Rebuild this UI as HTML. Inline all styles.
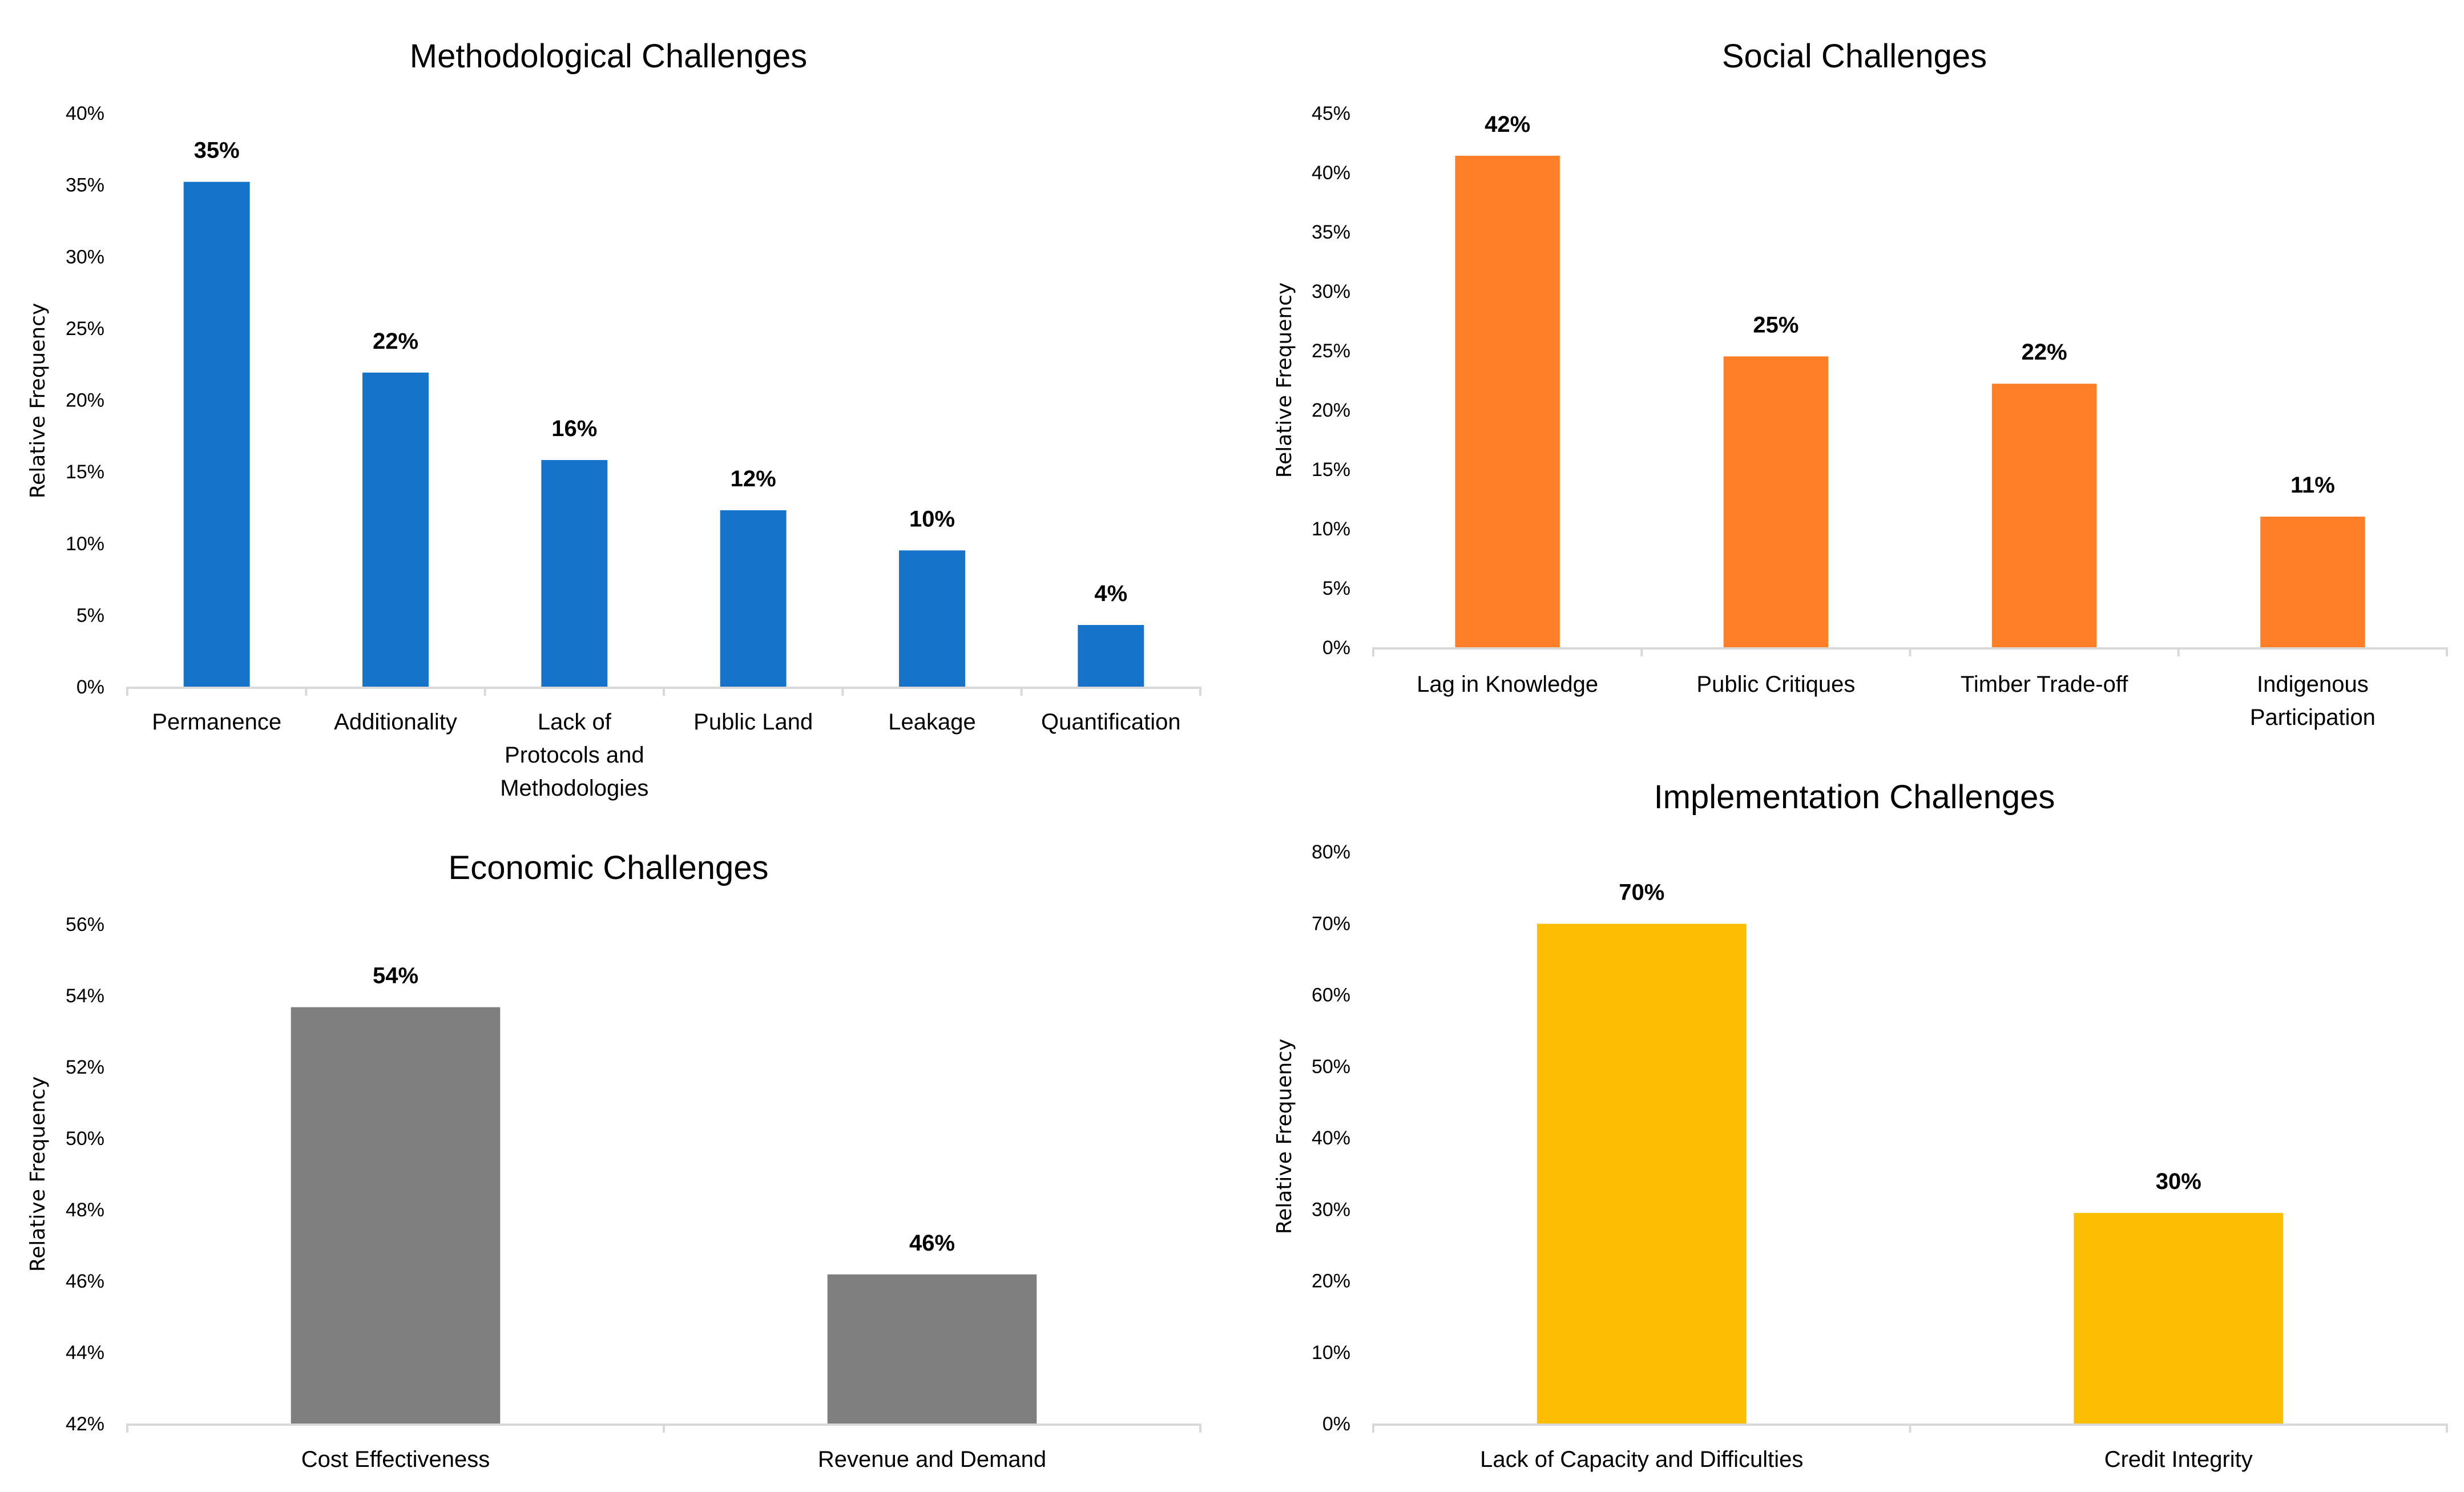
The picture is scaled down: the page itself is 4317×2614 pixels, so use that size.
<!DOCTYPE html>
<html><head><meta charset="utf-8">
<style>
html,body{margin:0;padding:0;background:#fff;}
svg{display:block;}
text{font-family:"Liberation Sans",sans-serif;fill:#000;}
.title{font-size:58px;}
.tick{font-size:34px;}
.cat{font-size:40px;}
.val{font-size:40px;font-weight:bold;}
.axt{font-family:"DejaVu Sans",sans-serif;font-size:36px;}
</style></head>
<body>
<svg id="root" width="4317" height="2614" viewBox="0 0 4317 2614" xmlns="http://www.w3.org/2000/svg"></svg>
<script>
const methCategories = [["Permanence"],["Additionality"],["Lack of","Protocols and","Methodologies"],["Public Land"],["Leakage"],["Quantification"]];
const methValues = [35.2, 21.9, 15.8, 12.3, 9.5, 4.3];
const methLabels = ["35%","22%","16%","12%","10%","4%"];
const methTicks = [0,5,10,15,20,25,30,35,40];

const socCategories = [["Lag in Knowledge"],["Public Critiques"],["Timber Trade-off"],["Indigenous","Participation"]];
const socValues = [41.4, 24.5, 22.2, 11.0];
const socLabels = ["42%","25%","22%","11%"];
const socTicks = [0,5,10,15,20,25,30,35,40,45];

const ecoCategories = [["Cost Effectiveness"],["Revenue and Demand"]];
const ecoValues = [53.67, 46.18];
const ecoLabels = ["54%","46%"];
const ecoTicks = [42,44,46,48,50,52,54,56];

const impCategories = [["Lack of Capacity and Difficulties"],["Credit Integrity"]];
const impValues = [69.9, 29.45];
const impLabels = ["70%","30%"];
const impTicks = [0,10,20,30,40,50,60,70,80];

const NS = "http://www.w3.org/2000/svg";
const root = document.getElementById('root');
function mk(tag, attrs, parent, txt){
  const e = document.createElementNS(NS, tag);
  for (const k in attrs) e.setAttribute(k, attrs[k]);
  if (txt !== undefined) e.textContent = txt;
  parent.appendChild(e);
  return e;
}

function chart(cfg){
  const g = mk('g', {}, root);
  
  
  const yMin = cfg.ticks[0], yMax = cfg.ticks[cfg.ticks.length-1];
  const y = v => cfg.y0 - (v - yMin) / (yMax - yMin) * (cfg.y0 - cfg.y1);
  const n = cfg.cats.length;
  const bw = (cfg.x1 - cfg.x0) / n;
  const xc = i => cfg.x0 + bw * (i + 0.5);

  const t = mk('text', {x: cfg.tx, y: cfg.ty, 'text-anchor':'middle', 'class':'title'}, g, cfg.title);
  
  

  cfg.ticks.forEach(v => {
    const tl = mk('text', {x: cfg.x0 - 40, y: y(v) + 12, 'text-anchor':'end', 'class':'tick'}, g, v + '%');
    
    
  });

  const at = mk('text', {x: 0, y: 0, 'text-anchor':'middle', 'class':'axt', transform:`translate(${cfg.ax},${cfg.ay}) rotate(-90)`}, g, 'Relative Frequency');
  
  

  cfg.vals.forEach((v, i) => {
    const w = bw * cfg.frac;
    const r = mk('rect', {x: xc(i) - w/2, y: y(v), width: w, height: cfg.y0 - y(v), fill: cfg.color}, g);
    
    
    const vl = mk('text', {x: xc(i), y: y(v) - 42, 'text-anchor':'middle', 'class':'val'}, g, cfg.labels[i]);
    
    
    cfg.cats[i].forEach((line, k) => {
      const cl = mk('text', {x: xc(i), y: cfg.catY + k * 58, 'text-anchor':'middle', 'class':'cat'}, g, line);
      
      
    });
  });

  const axis = mk('line', {x1: cfg.x0, x2: cfg.x1, y1: cfg.y0 + 2, y2: cfg.y0 + 2, stroke:'#d9d9d9', 'stroke-width':4}, g);
  
  
  for (let i = 0; i <= n; i++) {
    const tk = mk('line', {x1: cfg.x0 + bw*i, x2: cfg.x0 + bw*i, y1: cfg.y0, y2: cfg.y0 + 16, stroke:'#d9d9d9', 'stroke-width':4}, g);
    
    
  }
}

chart({name:'methodological-chart', title:'Methodological Challenges', tx:1066, ty:118,
  x0:223, x1:2103, y0:1203, y1:198, ticks:methTicks, cats:methCategories, vals:methValues, labels:methLabels,
  color:'#1573c9', frac:0.37, catY:1278, ax:78, ay:702});
chart({name:'social-chart', title:'Social Challenges', tx:3249, ty:118,
  x0:2406, x1:4287, y0:1134, y1:198, ticks:socTicks, cats:socCategories, vals:socValues, labels:socLabels,
  color:'#fe7f27', frac:0.39, catY:1212, ax:2262, ay:666});
chart({name:'economic-chart', title:'Economic Challenges', tx:1066, ty:1540,
  x0:223, x1:2103, y0:2494, y1:1619, ticks:ecoTicks, cats:ecoCategories, vals:ecoValues, labels:ecoLabels,
  color:'#7f7f7f', frac:0.39, catY:2570, ax:78, ay:2057});
chart({name:'implementation-chart', title:'Implementation Challenges', tx:3249, ty:1416,
  x0:2406, x1:4287, y0:2494, y1:1492, ticks:impTicks, cats:impCategories, vals:impValues, labels:impLabels,
  color:'#fdbd00', frac:0.39, catY:2570, ax:2262, ay:1991});
</script>
</body></html>
